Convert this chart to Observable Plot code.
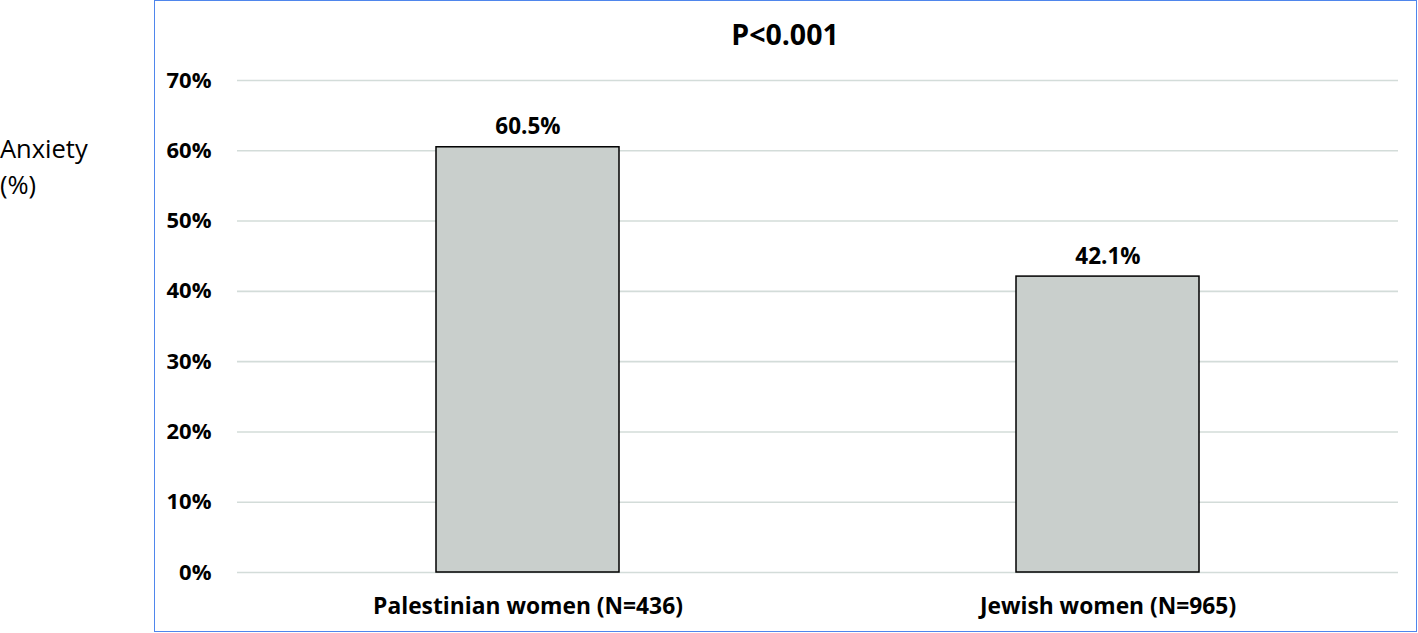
<!DOCTYPE html>
<html>
<head>
<meta charset="utf-8">
<script src="https://cdn.jsdelivr.net/npm/d3@7"></script>
<script src="https://cdn.jsdelivr.net/npm/@observablehq/plot@0.6"></script>
<style>
  html, body { margin: 0; padding: 0; background: #fff; }
  #wrap { position: relative; width: 1418px; height: 633px; overflow: hidden; font-family: "Open Sans", sans-serif; }
  #box { position: absolute; left: 154px; top: 0px; width: 1261px; height: 630px; border: 1.5px solid #4f86ec; }
  #ylab { position: absolute; left: 0px; top: 130px; font-size: 25.5px; line-height: 36px; color: #000; }
  #title { position: absolute; left: 0; width: 1570px; text-align: center; top: 14px; font-size: 28.5px; line-height: 40px; font-weight: bold; color: #000; }
  #chart { position: absolute; left: 0; top: 0; }
</style>
</head>
<body>
<div id="wrap">
  <div id="box"></div>
  <div id="ylab">Anxiety<br>(%)</div>
  <div id="title">P&lt;0.001</div>
  <div id="chart"></div>
</div>
<script>
const categories = ["Palestinian women (N=436)", "Jewish women (N=965)"];
const values = [60.5, 42.1];
const valueLabels = ["60.5%", "42.1%"];
const yTicks = [0, 10, 20, 30, 40, 50, 60, 70];

const data = categories.map((c, i) => ({category: c, value: values[i], label: valueLabels[i]}));

const chart = Plot.plot({
  width: 1418,
  height: 633,
  marginLeft: 237,
  marginRight: 20,
  marginTop: 80,
  marginBottom: 61,
  style: {fontFamily: "'Open Sans', sans-serif", background: "transparent"},
  x: {domain: categories, paddingInner: 0.685, paddingOuter: 0.3425, label: null},
  y: {domain: [0, 70], label: null},
  marks: [
    Plot.ruleY(yTicks, {stroke: "#d3dcd9", strokeWidth: 1.6}),
    Plot.barY(data, {x: "category", y: "value", fill: "#c9cfcc", stroke: "#000", strokeWidth: 1.5}),
    Plot.text(data, {x: "category", y: "value", text: "label", lineAnchor: "bottom", dy: -13, fontSize: 22.5, fontWeight: "bold", fill: "#000"}),
    Plot.axisY(yTicks, {tickSize: 0, tickPadding: 26, tickFormat: d => d + "%", fontSize: 22, fontWeight: "bold", fill: "#000", label: null}),
    Plot.axisX({tickSize: 0, tickPadding: 25, fontSize: 22.8, fontWeight: "bold", fill: "#000", label: null})
  ]
});
document.getElementById("chart").appendChild(chart);
</script>
</body>
</html>
